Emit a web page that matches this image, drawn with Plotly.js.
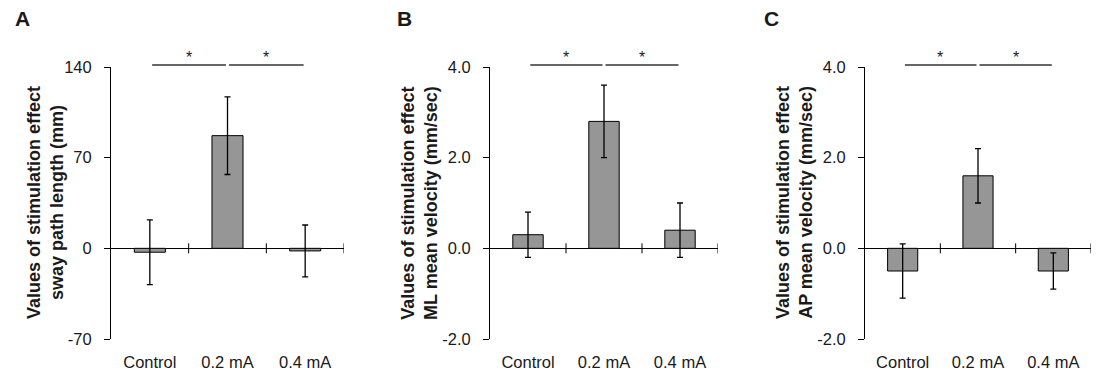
<!DOCTYPE html>
<html>
<head>
<meta charset="utf-8">
<script src="https://cdn.plot.ly/plotly-3.0.1.min.js"></script>
<style>html,body{margin:0;padding:0;background:#fff;}#chart{width:1108px;height:379px;}</style>
</head>
<body>
<div id="chart"></div>
<script>
// ---- data ----
const categories = ['Control', '0.2 mA', '0.4 mA'];

const swayPathValues = [-3, 87, -2];
const swayPathErrors = [25, 30, 20];

const mlVelocityValues = [0.3, 2.8, 0.4];
const mlVelocityErrors = [0.5, 0.8, 0.6];

const apVelocityValues = [-0.5, 1.6, -0.5];
const apVelocityErrors = [0.6, 0.6, 0.4];

const swayTickVals = [-70, 0, 70, 140];
const swayTickText = ['-70', '0', '70', '140'];
const velTickVals = [-2, 0, 2, 4];
const velTickText = ['-2.0', '0.0', '2.0', '4.0'];

const panelLetters = ['A', 'B', 'C'];
const yTitles = [
  'Values of stimulation effect<br>sway path length (mm)',
  'Values of stimulation effect<br>ML mean velocity (mm/sec)',
  'Values of stimulation effect<br>AP mean velocity (mm/sec)'
];
const significantPairs = [[0, 1], [1, 2]];

// ---- layout helpers ----
const W = 1108, H = 379;
const FONT = 'Liberation Sans, Arial, sans-serif';
const TXT = '#1a1a1a';
const domainsPx = [[111, 344], [490, 718], [865, 1091]];
const titleOffsets = [-66, -71, -71];
const letterX = [22, 404, 771];

const panels = [
  {vals: swayPathValues, errs: swayPathErrors, tv: swayTickVals, tt: swayTickText},
  {vals: mlVelocityValues, errs: mlVelocityErrors, tv: velTickVals, tt: velTickText},
  {vals: apVelocityValues, errs: apVelocityErrors, tv: velTickVals, tt: velTickText}
];

const xIdx = categories.map((c, i) => i);
const traces = [];
const layout = {
  width: W, height: H,
  margin: {l: 0, r: 0, t: 67, b: 40},
  paper_bgcolor: '#fff', plot_bgcolor: 'rgba(0,0,0,0)',
  showlegend: false,
  font: {family: FONT, size: 16, color: TXT},
  shapes: [], annotations: []
};

panels.forEach((p, k) => {
  const sfx = k === 0 ? '' : String(k + 1);
  const xa = 'x' + sfx, ya = 'y' + sfx;
  traces.push({
    type: 'bar', x: xIdx, y: p.vals, width: 0.4,
    xaxis: xa, yaxis: ya,
    marker: {color: '#969696', line: {color: '#000', width: 1}},
    error_y: {type: 'data', array: p.errs, visible: true, color: '#000', thickness: 1.3, width: 3},
    hoverinfo: 'none'
  });
  const dom = [domainsPx[k][0] / W, domainsPx[k][1] / W];
  layout['xaxis' + sfx] = {
    domain: dom, anchor: ya, range: [-0.5, categories.length - 0.5],
    tickvals: xIdx, ticktext: categories, ticks: '', showline: false,
    showgrid: false, zeroline: false, fixedrange: true,
    tickfont: {family: FONT, size: 16.5, color: TXT}, ticklabelstandoff: 11
  };
  layout['yaxis' + sfx] = {
    domain: [0, 1], anchor: xa,
    range: [p.tv[0], p.tv[p.tv.length - 1]],
    tickvals: p.tv, ticktext: p.tt, ticks: 'outside', ticklen: 6, tickwidth: 1, tickcolor: '#000',
    showline: true, linecolor: '#000', linewidth: 1, showgrid: false,
    zeroline: true, zerolinecolor: '#000', zerolinewidth: 1.2, fixedrange: true,
    tickfont: {family: FONT, size: 16.5, color: TXT}, ticklabelstandoff: 9
  };
  // category boundary ticks crossing the zero line
  for (let b = 0; b <= categories.length - 1; b++) {
    layout.shapes.push({
      type: 'line', xref: xa, yref: ya, x0: b + 0.5, x1: b + 0.5,
      ysizemode: 'pixel', yanchor: 0, y0: -5, y1: 5,
      line: {color: '#000', width: 1}
    });
  }
  // significance lines and stars
  significantPairs.forEach(([a, b], j) => {
    layout.shapes.push({
      type: 'line', xref: xa, yref: 'paper',
      x0: a + (j === 0 ? 0.03 : 0.02), x1: b - (j === 0 ? 0.02 : 0.02),
      ysizemode: 'pixel', yanchor: 1, y0: 2, y1: 2,
      line: {color: '#333', width: 1.5}
    });
    layout.annotations.push({
      xref: xa, yref: 'paper', x: (a + b) / 2, y: 1, yshift: 10,
      text: '*', showarrow: false, font: {family: FONT, size: 16, color: TXT},
      xanchor: 'center', yanchor: 'middle'
    });
  });
  // y-axis title
  layout.annotations.push({
    xref: 'paper', yref: 'paper', x: dom[0], y: 0.5, xshift: titleOffsets[k],
    text: yTitles[k], textangle: -90, showarrow: false,
    font: {family: FONT, size: 18, color: TXT, weight: 'bold'},
    xanchor: 'center', yanchor: 'middle'
  });
  // panel letter
  layout.annotations.push({
    xref: 'paper', yref: 'paper', x: letterX[k] / W, y: 1, yshift: 49,
    text: '<b>' + panelLetters[k] + '</b>', showarrow: false,
    font: {family: FONT, size: 21, color: TXT},
    xanchor: 'center', yanchor: 'middle'
  });
});

Plotly.newPlot('chart', traces, layout, {staticPlot: true, displayModeBar: false});
</script>
</body>
</html>
